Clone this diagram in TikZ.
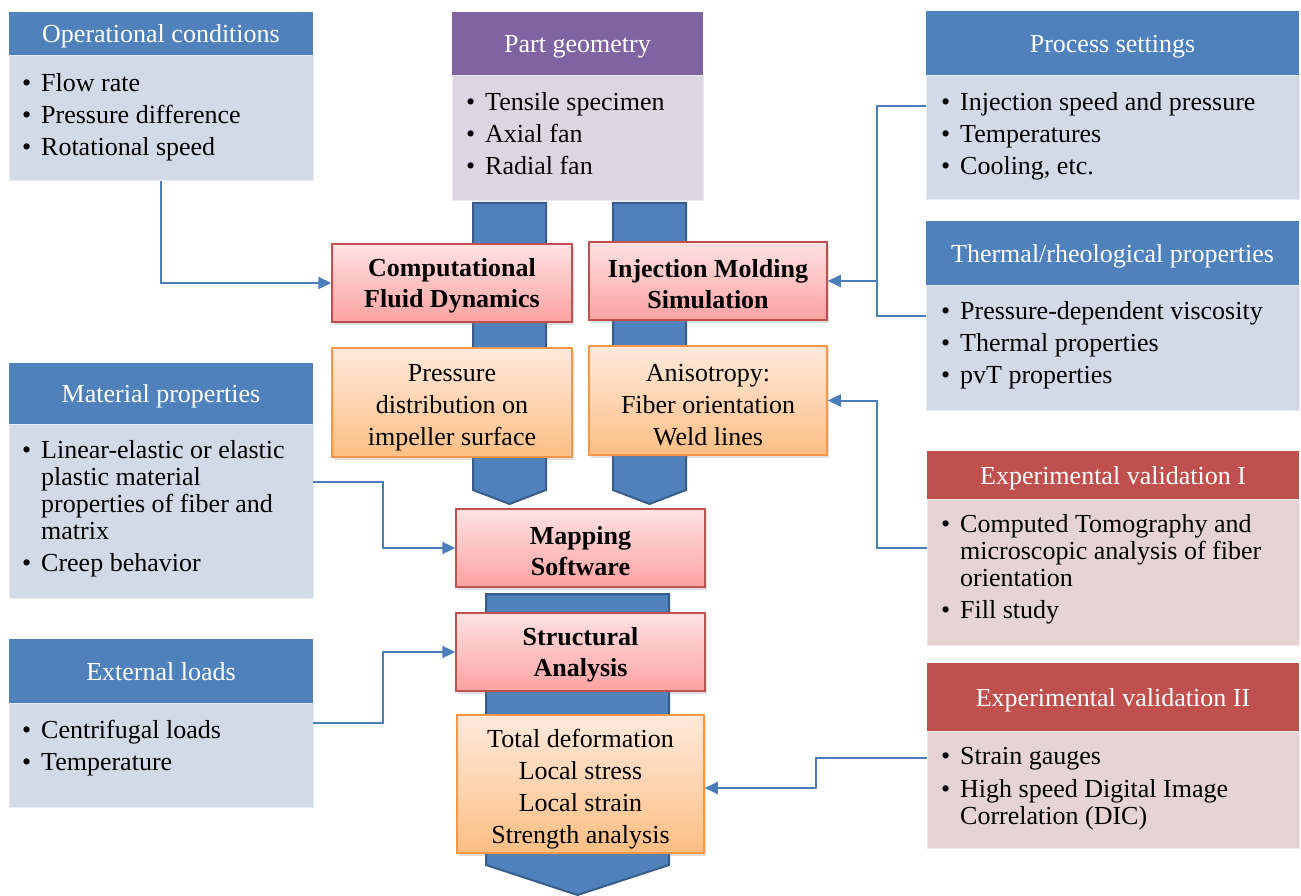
\documentclass[tikz,border=0pt]{standalone}
\usepackage{fontspec}
\setmainfont{Liberation Serif}
\usetikzlibrary{arrows.meta,shadows,calc}
\definecolor{hblue}{HTML}{4F81BD}
\definecolor{bblue}{HTML}{D3DAE7}
\definecolor{hpurple}{HTML}{8064A2}
\definecolor{bpurple}{HTML}{DCD6E3}
\definecolor{hred}{HTML}{C0504D}
\definecolor{bred}{HTML}{E6D3D3}
\definecolor{pinktop}{HTML}{FFE2E2}
\definecolor{pinkbot}{HTML}{FBA2A1}
\definecolor{pinkline}{HTML}{C0504D}
\definecolor{orgtop}{HTML}{FFE9DC}
\definecolor{orgbot}{HTML}{FDBF84}
\definecolor{orgline}{HTML}{F79646}
\definecolor{arrfill}{HTML}{4F81BD}
\definecolor{arrline}{HTML}{385D8A}
\definecolor{connblue}{HTML}{4A7EBB}
\newcommand\bul{\makebox[19pt][l]{\textbullet}}
\newcommand\ind{\hspace*{19pt}}
\newcommand\ptop{\rule{0pt}{24pt}}
\newcommand\otop{\rule{0pt}{27pt}}
\begin{document}
\begin{tikzpicture}[x=1pt,y=-1pt,
  head/.style={rectangle, anchor=north west, inner sep=0pt, outer sep=0pt, text=white,
    text height=19pt, text depth=1pt, font=\fontsize{26}{31}\selectfont},
  body/.style={rectangle, anchor=north west, inner sep=0pt, outer sep=0pt, line width=1pt},
  btext/.style={anchor=north west, inner sep=0pt, align=left, font=\fontsize{26}{27}\selectfont},
  pinkbox/.style={rectangle, draw=pinkline, line width=1.5pt, top color=pinktop, bottom color=pinkbot,
    align=center, inner sep=0pt, font=\bfseries\fontsize{26}{31}\selectfont,
    drop shadow={opacity=0.25, shadow xshift=2pt, shadow yshift=-3pt}},
  orgbox/.style={rectangle, draw=orgline, line width=1.5pt, top color=orgtop, bottom color=orgbot,
    align=center, inner sep=0pt, font=\fontsize{26}{32}\selectfont,
    drop shadow={opacity=0.25, shadow xshift=2pt, shadow yshift=-3pt}},
  chev/.style={fill=arrfill, draw=arrline, line width=2pt, line join=miter},
  conn/.style={draw=connblue, line width=2pt, -{Triangle[length=13pt,width=12pt]}},
  connline/.style={draw=connblue, line width=2pt}]
\useasboundingbox (0,0) rectangle (1301,896);
\fill[white] (0,0) rectangle (1301,896);

% big flow arrows
\path[chev] (473,203) -- (546,203) -- (546,490) -- (509.5,504) -- (473,490) -- cycle;
\path[chev] (613,203) -- (686,203) -- (686,490) -- (649.5,504) -- (613,490) -- cycle;
\path[chev] (486,594) -- (669,594) -- (669,865) -- (577.5,895) -- (486,865) -- cycle;

% left panels
\node[head, fill=hblue, minimum width=304, minimum height=44] (oph) at (9,12) {Operational conditions};
\node[body, fill=bblue, draw=white!45!bblue, minimum width=304, minimum height=125] (opb) at (9,56) {};
\node[btext] (opt) at (22,73) {\bul Flow rate\\[5pt]\bul Pressure difference\\[5pt]\bul Rotational speed};

\node[head, fill=hblue, minimum width=304, minimum height=61] (math) at (9,363) {Material properties};
\node[body, fill=bblue, draw=white!45!bblue, minimum width=304, minimum height=174] (matb) at (9,424) {};
\node[btext] (matt) at (22,440) {\bul Linear-elastic or elastic\\\ind plastic material\\\ind properties of fiber and\\\ind matrix\\[5pt]\bul Creep behavior};

\node[head, fill=hblue, minimum width=304, minimum height=64] (exth) at (9,639) {External loads};
\node[body, fill=bblue, draw=white!45!bblue, minimum width=304, minimum height=104] (extb) at (9,703) {};
\node[btext] (extt) at (22,720) {\bul Centrifugal loads\\[5pt]\bul Temperature};

% part geometry
\node[head, fill=hpurple, minimum width=251, minimum height=64] (parth) at (452,12) {Part geometry};
\node[body, fill=bpurple, draw=white!45!bpurple, minimum width=251, minimum height=125] (partb) at (452,76) {};
\node[btext] (partt) at (466,92) {\bul Tensile specimen\\[5pt]\bul Axial fan\\[5pt]\bul Radial fan};

% right panels
\node[head, fill=hblue, minimum width=373, minimum height=65] (proch) at (926,11) {Process settings};
\node[body, fill=bblue, draw=white!45!bblue, minimum width=373, minimum height=124] (procb) at (926,76) {};
\node[btext] (proct) at (941,92) {\bul Injection speed and pressure\\[5pt]\bul Temperatures\\[5pt]\bul Cooling, etc.};

\node[head, fill=hblue, minimum width=373, minimum height=64] (thh) at (926,221) {Thermal/rheological properties};
\node[body, fill=bblue, draw=white!45!bblue, minimum width=373, minimum height=125] (thb) at (926,285) {};
\node[btext] (tht) at (941,301) {\bul Pressure-dependent viscosity\\[5pt]\bul Thermal properties\\[5pt]\bul pvT properties};

\node[head, fill=hred, minimum width=372, minimum height=48] (ev1h) at (927,451) {Experimental validation I};
\node[body, fill=bred, draw=white!45!bred, minimum width=372, minimum height=146] (ev1b) at (927,499) {};
\node[btext] (ev1t) at (941,514) {\bul Computed Tomography and\\\ind microscopic analysis of fiber\\\ind orientation\\[5pt]\bul Fill study};

\node[head, fill=hred, minimum width=372, minimum height=68] (ev2h) at (927,663) {Experimental validation II};
\node[body, fill=bred, draw=white!45!bred, minimum width=372, minimum height=117] (ev2b) at (927,731) {};
\node[btext] (ev2t) at (941,747) {\bul Strain gauges\\[6pt]\bul High speed Digital Image\\\ind Correlation (DIC)};

% center boxes
\node[pinkbox, minimum width=240, minimum height=78] (cfd) at (452,283) {\ptop Computational\\Fluid Dynamics};
\node[pinkbox, minimum width=238, minimum height=78] (ims) at (708,281) {\ptop Injection Molding\\Simulation};
\node[orgbox, minimum width=240, minimum height=109] (pres) at (452,402.5) {\otop Pressure\\distribution on\\impeller surface};
\node[orgbox, minimum width=238, minimum height=109] (aniso) at (708,400.5) {\otop Anisotropy:\\Fiber orientation\\Weld lines};
\node[pinkbox, minimum width=249, minimum height=78] (map) at (580.5,548) {\ptop Mapping\\Software};
\node[pinkbox, minimum width=249, minimum height=78] (str) at (580.5,652) {\ptop Structural\\Analysis};
\node[orgbox, minimum width=247, minimum height=138] (res) at (580.5,784) {\rule{0pt}{28pt}Total deformation\\Local stress\\Local strain\\Strength analysis};

% connectors
\coordinate (pa) at (926,106);
\coordinate (ta) at (926,316);
\coordinate (jx) at (877,281);
\coordinate (ea) at (927,548);
\coordinate (eb) at (877,400.5);
\coordinate (ma) at (313,482);
\coordinate (mb) at (383,482);
\coordinate (xa) at (313,723);
\coordinate (xb) at (383,723);
\coordinate (fa) at (927,758);
\coordinate (fb) at (816,758);

\draw[conn] (opb.south) |- (cfd.west);
\draw[connline] (pa) -| (jx) |- (ta);
\draw[conn] (jx) -- (ims.east);
\draw[conn] (ea) -| (eb) -- (aniso.east);
\draw[conn] (ma) -- (mb) |- (map.west);
\draw[conn] (xa) -- (xb) |- (str.west);
\draw[conn] (fa) -- (fb) |- ($(res.east)+(0,4)$);
\end{tikzpicture}
\end{document}
